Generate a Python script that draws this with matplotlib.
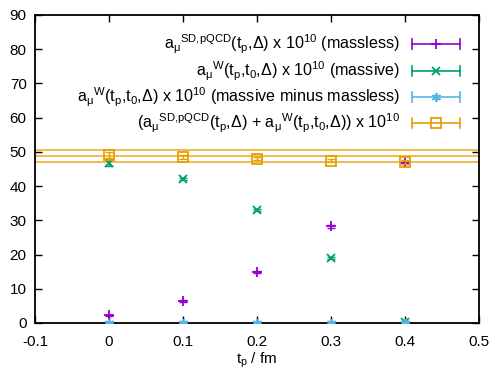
import numpy as np
import matplotlib
matplotlib.use('Agg')
from matplotlib import pyplot as plt

# fonts: gnuplot-like sans serif, upright math
plt.rcParams['font.family'] = 'Liberation Sans'
plt.rcParams['font.size'] = 11
plt.rcParams['mathtext.fontset'] = 'custom'
plt.rcParams['mathtext.rm'] = 'Liberation Sans'
plt.rcParams['mathtext.it'] = 'Liberation Sans'
plt.rcParams['mathtext.bf'] = 'Liberation Sans:bold'

# data
tp = [0.0, 0.1, 0.2, 0.3, 0.4]
massless = [2.2, 6.4, 14.9, 28.2, 46.8]
massless_err = [0.2, 0.2, 0.2, 0.3, 0.3]
massive = [46.7, 42.1, 33.0, 19.0, 0.3]
massive_err = [0.8, 0.4, 0.4, 0.4, 0.2]
diff = [0.1, 0.1, 0.1, 0.1, 0.1]
diff_err = [0.2, 0.2, 0.2, 0.2, 0.2]
total = [49.1, 48.6, 48.0, 47.4, 47.0]
total_err = [1.0, 0.6, 0.5, 0.5, 0.5]
band_center = 48.85
band_halfwidth = 1.7

labels = [
    r'a$_\mu{}^\mathrm{SD{,}pQCD}$(t$_\mathrm{p}$,$\Delta$) x 10$^{10}$ (massless)',
    r'a$_\mu{}^\mathrm{W}$(t$_\mathrm{p}$,t$_\mathrm{0}$,$\Delta$) x 10$^{10}$ (massive)',
    r'a$_\mu{}^\mathrm{W}$(t$_\mathrm{p}$,t$_\mathrm{0}$,$\Delta$) x 10$^{10}$ (massive minus massless)',
    r'(a$_\mu{}^\mathrm{SD{,}pQCD}$(t$_\mathrm{p}$,$\Delta$) + a$_\mu{}^\mathrm{W}$(t$_\mathrm{p}$,t$_\mathrm{0}$,$\Delta$)) x 10$^{10}$',
]
colors = ['#9400D3', '#009E73', '#56B4E9', '#E69F00']
markers = ['+', 'x', (6, 2, 0), 's']
sizes = [7, 5.5, 6.5, 6.5]

fig = plt.figure(figsize=(4.94, 3.74), dpi=100)
ax = fig.add_axes([35/494, 51/374, 444/494, 308/374])

# band of the sum
for y in [band_center - band_halfwidth, band_center, band_center + band_halfwidth]:
    ax.axhline(y, color=colors[3], lw=1.3, alpha=0.75, zorder=1)

series = [(massless, massless_err), (massive, massive_err), (diff, diff_err), (total, total_err)]
for i, (vals, errs) in enumerate(series):
    mfc = 'none' if markers[i] == 's' else colors[i]
    ax.errorbar(tp, vals, yerr=errs, fmt='none', ecolor=colors[i], elinewidth=1,
                capsize=3, capthick=1, zorder=2 + i)
    ax.plot(tp, vals, ls='none', marker=markers[i], color=colors[i], mfc=mfc,
            ms=sizes[i], mew=1.3, zorder=2 + i)

# legend drawn the gnuplot way: text right aligned, sample with end caps
leg_y = [0.906, 0.818, 0.734, 0.648]
for i, lab in enumerate(labels):
    y = leg_y[i]
    ax.text(0.822, y, lab, transform=ax.transAxes, ha='right', va='center', fontsize=11.6)
    ax.plot([0.85, 0.958], [y, y], transform=ax.transAxes, color=colors[i], lw=1.2,
            clip_on=False)
    for xc in [0.85, 0.958]:
        ax.plot([xc, xc], [y - 0.016, y + 0.016], transform=ax.transAxes,
                color=colors[i], lw=1.2, clip_on=False)
    mfc = 'none' if markers[i] == 's' else colors[i]
    ax.plot([0.904], [y], transform=ax.transAxes, ls='none', marker=markers[i],
            color=colors[i], mfc=mfc, ms=sizes[i], mew=1.3, clip_on=False)

ax.set_xlim(-0.1, 0.5)
ax.set_ylim(0, 90)
ax.set_xticks(np.arange(-0.1, 0.51, 0.1))
ax.set_xticklabels(['-0.1', '0', '0.1', '0.2', '0.3', '0.4', '0.5'])
ax.set_yticks(np.arange(0, 91, 10))
ax.tick_params(direction='in', top=True, right=True, length=5, width=1, pad=6)
ax.tick_params(axis='x', pad=9)
for sp in ax.spines.values():
    sp.set_linewidth(1.3)
ax.set_xlabel(r't$_\mathrm{p}$ / fm', labelpad=1)

plt.savefig('out.png', dpi=100)
plt.close()
